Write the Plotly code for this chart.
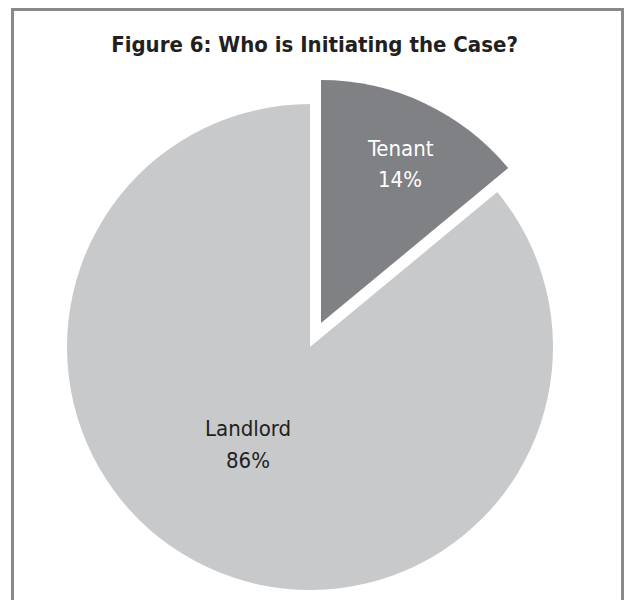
import plotly.graph_objects as go

# Data
labels = ["Tenant", "Landlord"]
shares = [14, 86]
slice_colors = ["#808184", "#c8c9cb"]
label_colors = ["#ffffff", "#231f20"]
title_text = "Figure 6: Who is Initiating the Case?"

W, H = 629, 600
FONT = "DejaVu Sans Condensed, Liberation Sans Narrow, Arial Narrow, sans-serif"
CLEAR = "rgba(0,0,0,0)"


def px_domain(cx, cy, r):
    """Square pie domain (paper units) for a centre/radius given in pixels."""
    return dict(
        x=[(cx - r) / W, (cx + r) / W],
        y=[1 - (cy + r) / H, 1 - (cy - r) / H],
    )


R = 243
base_center = (310, 347)      # main pie
exploded_center = (321, 323)  # Tenant slice pushed out along its mid-angle

fig = go.Figure()

# Main pie: Landlord visible, Tenant slot left empty
fig.add_trace(go.Pie(
    labels=labels, values=shares, sort=False, direction="clockwise", rotation=0,
    marker=dict(colors=[CLEAR, slice_colors[1]], line=dict(width=0)),
    textinfo="none", hoverinfo="label+percent",
    domain=px_domain(*base_center, R), showlegend=False,
))
# Exploded Tenant slice
fig.add_trace(go.Pie(
    labels=labels, values=shares, sort=False, direction="clockwise", rotation=0,
    marker=dict(colors=[slice_colors[0], CLEAR], line=dict(width=0)),
    textinfo="none", hoverinfo="label+percent",
    domain=px_domain(*exploded_center, R), showlegend=False,
))

# Slice labels: name line and percentage line
label_pos = {"Tenant": (400, 148, 179), "Landlord": (248, 428, 460)}
for lab, val, col in zip(labels, shares, label_colors):
    x, y_name, y_val = label_pos[lab]
    for txt, y in ((lab, y_name), (f"{val}%", y_val)):
        fig.add_annotation(
            x=x / W, y=1 - y / H, xref="paper", yref="paper",
            text=txt, showarrow=False,
            font=dict(family=FONT, size=22, color=col),
            xanchor="center", yanchor="middle", align="center",
        )

# Outer frame (open at the bottom edge of the page)
fig.add_shape(
    type="rect", xref="paper", yref="paper",
    x0=12.5 / W, x1=622.5 / W, y0=-0.2, y1=1 - 9.5 / H,
    line=dict(color="#88898b", width=3), fillcolor=CLEAR, layer="below",
)

fig.update_layout(
    width=W, height=H,
    margin=dict(l=0, r=0, t=0, b=0),
    paper_bgcolor="white", plot_bgcolor="white",
    title=dict(
        text=f"<b>{title_text}</b>", x=0.5, xanchor="center",
        y=1 - 44 / H, yanchor="middle", yref="container",
        font=dict(family=FONT, size=22, color="#231f20"),
    ),
)

fig.write_html("out.html")
